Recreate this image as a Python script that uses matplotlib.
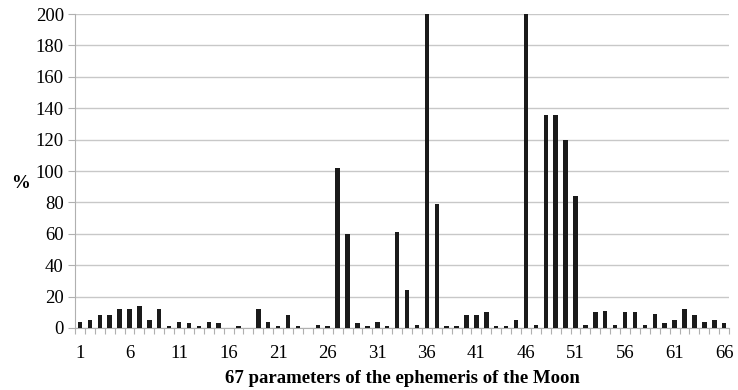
import matplotlib
matplotlib.use('Agg')
import matplotlib.pyplot as plt
import numpy as np

# parameters 1..66, error in %
params = np.arange(1, 67)
values = [4, 5, 8, 8, 12, 12, 14, 5, 12, 1,
          4, 3, 1, 4, 3, 0, 1, 0, 12, 4,
          1, 8, 1, 0, 2, 1, 102, 60, 3, 1,
          4, 1, 61, 24, 2, 200, 79, 1, 1, 8,
          8, 10, 1, 1, 5, 200, 2, 136, 136, 120,
          84, 2, 10, 11, 2, 10, 10, 2, 9, 3,
          5, 12, 8, 4, 5, 3]
xtick_labels = [1, 6, 11, 16, 21, 26, 31, 36, 41, 46, 51, 56, 61, 66]

plt.rcParams['font.family'] = ['Liberation Serif', 'DejaVu Serif']

fig = plt.figure(figsize=(7.38, 3.9), dpi=100)
ax = fig.add_axes([0.1016, 0.159, 0.8864, 0.805])

ax.bar(params, values, width=0.45, color='#1a1a1a', zorder=3)

ax.set_xlim(0.5, 66.5)
ax.set_ylim(0, 200)
ax.set_yticks(np.arange(0, 201, 20))
ax.set_xticks(xtick_labels)
ax.set_xticks(np.arange(0.5, 67, 1), minor=True)
ax.tick_params(axis='x', which='major', length=0, labelsize=13.5, pad=12)
ax.tick_params(axis='x', which='minor', length=4, color='#b0b0b0', width=0.8)
ax.tick_params(axis='y', length=5, color='#b0b0b0', width=0.8, labelsize=13.5, pad=3)

ax.grid(axis='y', color='#c8c8c8', linewidth=1, zorder=0)
for s in ['top', 'right']:
    ax.spines[s].set_visible(False)
ax.spines['left'].set_color('#b0b0b0')
ax.spines['bottom'].set_color('#b0b0b0')

ax.set_ylabel('%', fontsize=13.5, fontweight='bold', rotation=0, va='center')
ax.yaxis.set_label_coords(-0.083, 0.46)
ax.set_xlabel('67 parameters of the ephemeris of the Moon', fontsize=13.5, fontweight='bold', labelpad=6)

fig.savefig('out.png', dpi=100)
